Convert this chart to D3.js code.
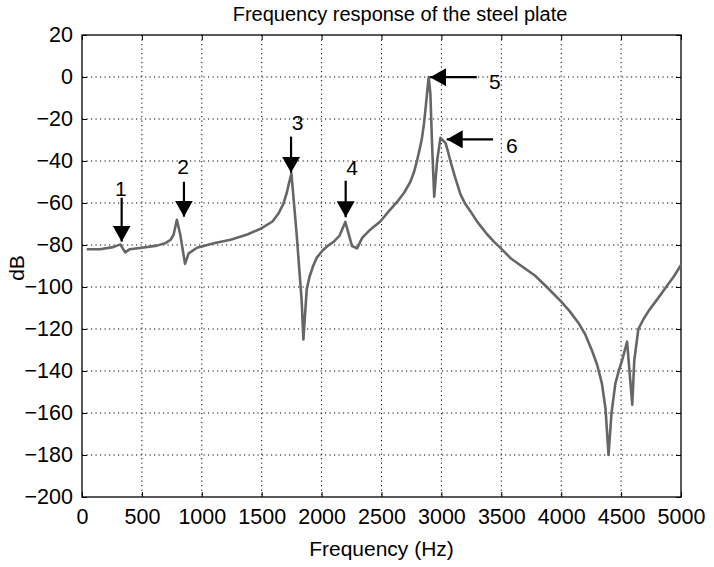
<!DOCTYPE html>
<html>
<head>
<meta charset="utf-8">
<script src="https://cdn.jsdelivr.net/npm/d3@7"></script>
<style>
  html, body { margin: 0; padding: 0; background: #fff; }
  svg { display: block; font-family: "Liberation Sans", Arial, Helvetica, sans-serif; }
</style>
</head>
<body>
<svg id="chart" width="714" height="567"></svg>
<script>
// ---- data ----
const freq = [40, 150, 260, 320, 360, 400, 500, 625, 700, 740, 765, 792, 820, 860, 890, 960,
  1100, 1240, 1380, 1500, 1590, 1640, 1680, 1710, 1730, 1748, 1792, 1834, 1848, 1876, 1900,
  1932, 1960, 2010, 2060, 2100, 2150, 2198, 2254, 2296, 2340, 2400, 2490, 2560, 2630, 2690,
  2740, 2770, 2796, 2820, 2838, 2855, 2866, 2880, 2894, 2908, 2922, 2940, 2964, 2992, 3035,
  3055, 3075, 3110, 3160, 3200, 3243, 3300, 3383, 3440, 3495, 3580, 3680, 3780, 3880, 4000,
  4070, 4143, 4200, 4255, 4300, 4340, 4370, 4395, 4420, 4452, 4480, 4508, 4550, 4570, 4593,
  4610, 4644, 4690, 4734, 4800, 4876, 4940, 5000];
const dB = [-82, -82, -81, -79.7, -83.5, -82, -81.3, -80.3, -79, -77.5, -75, -68, -75, -89, -84, -81.3,
  -79.2, -77.5, -75, -72, -68.8, -65, -60.5, -55, -50, -46, -75, -107, -125, -101, -95,
  -89.6, -86, -82.5, -80, -78.5, -75.5, -69, -80.5, -81.6, -76.5, -73, -68.8, -64, -59.5, -55,
  -50, -45.5, -40, -34, -29, -22, -16, -8, 0, -8, -32, -57, -40, -29, -31.5,
  -35.5, -40, -47, -56, -60.5, -64, -69, -75, -78.5, -81.5, -86.4, -90.5, -94.5, -100, -107,
  -111.5, -117, -122.5, -130, -137, -146, -158, -180, -160, -146, -140, -135, -126, -140, -156,
  -135, -120, -115, -111, -106, -100, -95, -89.5];

const xTicks = [0, 500, 1000, 1500, 2000, 2500, 3000, 3500, 4000, 4500, 5000];
const yTicks = [20, 0, -20, -40, -60, -80, -100, -120, -140, -160, -180, -200];

// annotation arrows: label, tip (f, dB), tail (f, dB), label position (f, dB)
const arrowLabels = ["1", "2", "3", "4", "5", "6"];
const arrowTipF   = [331, 851, 1745, 2201, 2905, 3044];
const arrowTipDB  = [-78.4, -66.5, -45.6, -66.8, -0.1, -29.7];
const arrowTailF  = [331, 851, 1745, 2201, 3295, 3431];
const arrowTailDB = [-57.5, -49.9, -28.4, -49.4, -0.1, -29.7];
const labelF      = [325, 843, 1800, 2254, 3447, 3587];
const labelDB     = [-53, -42.4, -21.9, -43.3, -2.2, -32.4];

const titleText = "Frequency response of the steel plate";
const xLabel = "Frequency (Hz)";
const yLabel = "dB";

// ---- layout ----
const svg = d3.select("#chart");
const L = 82, R = 681, T = 35, B = 497;
const x = d3.scaleLinear().domain([0, 5000]).range([L, R]);
const y = d3.scaleLinear().domain([-200, 20]).range([B, T]);

// grid
const grid = svg.append("g");
grid.selectAll("line.vx").data(xTicks.slice(1, -1)).enter().append("line")
  .attr("x1", d => x(d)).attr("x2", d => x(d)).attr("y1", T).attr("y2", B)
  .attr("stroke", "#000").attr("stroke-width", 1).attr("stroke-dasharray", "1.2,3.3");
grid.selectAll("line.hy").data(yTicks.slice(1, -1)).enter().append("line")
  .attr("y1", d => y(d)).attr("y2", d => y(d)).attr("x1", L).attr("x2", R)
  .attr("stroke", "#000").attr("stroke-width", 1).attr("stroke-dasharray", "1.2,3.3");

// axes
const xAxis = d3.axisBottom(x).tickValues(xTicks).tickSize(-5).tickPadding(12).tickFormat(d3.format("d"));
const yAxis = d3.axisLeft(y).tickValues(yTicks).tickSize(-5).tickPadding(9)
  .tickFormat(d => d < 0 ? "\u2212" + Math.abs(d) : String(d));
const xa = svg.append("g").attr("transform", `translate(0,${B})`).call(xAxis);
const ya = svg.append("g").attr("transform", `translate(${L},0)`).call(yAxis);
const xt = svg.append("g").attr("transform", `translate(0,${T})`).call(d3.axisTop(x).tickValues(xTicks).tickSize(-5).tickFormat(""));
const yr = svg.append("g").attr("transform", `translate(${R},0)`).call(d3.axisRight(y).tickValues(yTicks).tickSize(-5).tickFormat(""));
[xa, ya, xt, yr].forEach(g => {
  g.select(".domain").remove();
  g.selectAll("line").attr("stroke", "#000");
  g.selectAll("text").attr("font-size", 21.5).attr("fill", "#000");
});

// box
svg.append("rect").attr("x", L).attr("y", T).attr("width", R - L).attr("height", B - T)
  .attr("fill", "none").attr("stroke", "#000").attr("stroke-width", 1.3);

// curve
const pts = freq.map((f, i) => [f, dB[i]]);
svg.append("path").datum(pts)
  .attr("d", d3.line().x(d => x(d[0])).y(d => y(d[1])))
  .attr("fill", "none").attr("stroke", "#666").attr("stroke-width", 2.6)
  .attr("stroke-linejoin", "round");

// arrows
const defs = svg.append("defs");
defs.append("marker").attr("id", "ah").attr("viewBox", "0 0 16 18")
  .attr("refX", 16).attr("refY", 9).attr("markerWidth", 16).attr("markerHeight", 18)
  .attr("markerUnits", "userSpaceOnUse").attr("orient", "auto")
  .append("path").attr("d", "M0,0 L16,9 L0,18 Z").attr("fill", "#000");

const ann = svg.append("g");
arrowLabels.forEach((lab, i) => {
  ann.append("line")
    .attr("x1", x(arrowTailF[i])).attr("y1", y(arrowTailDB[i]))
    .attr("x2", x(arrowTipF[i])).attr("y2", y(arrowTipDB[i]))
    .attr("stroke", "#000").attr("stroke-width", 2.2)
    .attr("marker-end", "url(#ah)");
  ann.append("text").attr("x", x(labelF[i])).attr("y", y(labelDB[i]))
    .attr("text-anchor", "middle").attr("dominant-baseline", "central")
    .attr("font-size", 21).attr("fill", "#000").text(lab);
});

// titles
svg.append("text").attr("x", 400).attr("y", 21).attr("text-anchor", "middle")
  .attr("font-size", 20).attr("fill", "#000").text(titleText);
svg.append("text").attr("x", (L + R) / 2).attr("y", 556).attr("text-anchor", "middle")
  .attr("font-size", 21).attr("fill", "#000").text(xLabel);
svg.append("text").attr("transform", `translate(24,${(T + B) / 2 + 2}) rotate(-90)`)
  .attr("text-anchor", "middle").attr("font-size", 21).attr("fill", "#000").text(yLabel);
</script>
</body>
</html>
